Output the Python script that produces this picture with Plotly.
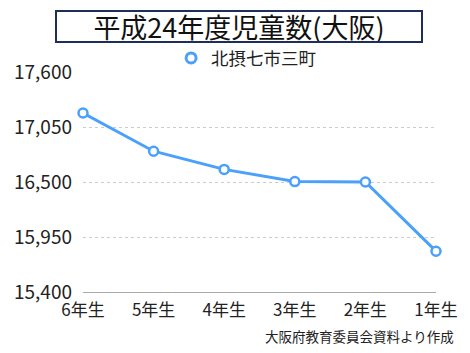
import plotly.graph_objects as go

categories = ["6年生", "5年生", "4年生", "3年生", "2年生", "1年生"]
values = [17190, 16808, 16626, 16504, 16500, 15808]
series_name = "北摂七市三町"
ytick_vals = [15400, 15950, 16500, 17050, 17600]

FONT = "Noto Sans CJK JP"
BLUE = "#4aa0fb"

fig = go.Figure()
fig.add_trace(go.Scatter(
    x=categories, y=values, mode="lines+markers", showlegend=False,
    line=dict(color=BLUE, width=3),
    marker=dict(symbol="circle", size=9, color="white", line=dict(color=BLUE, width=2.5)),
    cliponaxis=False,
))
fig.add_trace(go.Scatter(
    x=[None], y=[None], mode="markers", name=series_name,
    marker=dict(symbol="circle", size=10, color="white", line=dict(color=BLUE, width=3)),
))

fig.update_layout(
    width=470, height=353,
    margin=dict(l=83, r=34, t=72, b=61),
    paper_bgcolor="white", plot_bgcolor="white",
    font=dict(family=FONT, color="#222222"),
    legend=dict(orientation="h", x=0.462, xanchor="center", y=(292 - 58) / 220, yanchor="middle",
                font=dict(size=17.5, family=FONT), bgcolor="rgba(0,0,0,0)",
                tracegroupgap=0, borderwidth=0),
    xaxis=dict(type="category", range=[0, 5], showgrid=False, showline=True,
               linecolor="#aaaaaa", linewidth=1, ticks="", tickfont=dict(size=17, family=FONT),
               ticklabelstandoff=3, zeroline=False),
    yaxis=dict(range=[15400, 17600], tickvals=ytick_vals, tickformat=",",
               showgrid=True, gridcolor="#cccccc", griddash="dot", gridwidth=1,
               showline=False, zeroline=False, ticks="", ticklabelstandoff=10,
               tickfont=dict(size=19, family=FONT)),
    annotations=[
        dict(text="平成24年度児童数(大阪)", xref="paper", yref="paper",
             x=(239 - 83) / 353, y=(292 - 26.5) / 220, xanchor="center", yanchor="middle",
             showarrow=False, font=dict(size=27, family=FONT, color="#111111"),
             width=364, height=29, bordercolor="#1e2e5a", borderwidth=2, borderpad=0,
             bgcolor="white"),
        dict(text="大阪府教育委員会資料より作成", xref="paper", yref="paper",
             x=(456 - 83) / 353, y=(292 - 336) / 220, xanchor="right", yanchor="middle",
             showarrow=False, font=dict(size=13.5, family=FONT, color="#222222")),
    ],
)

fig.write_html("out.html")
